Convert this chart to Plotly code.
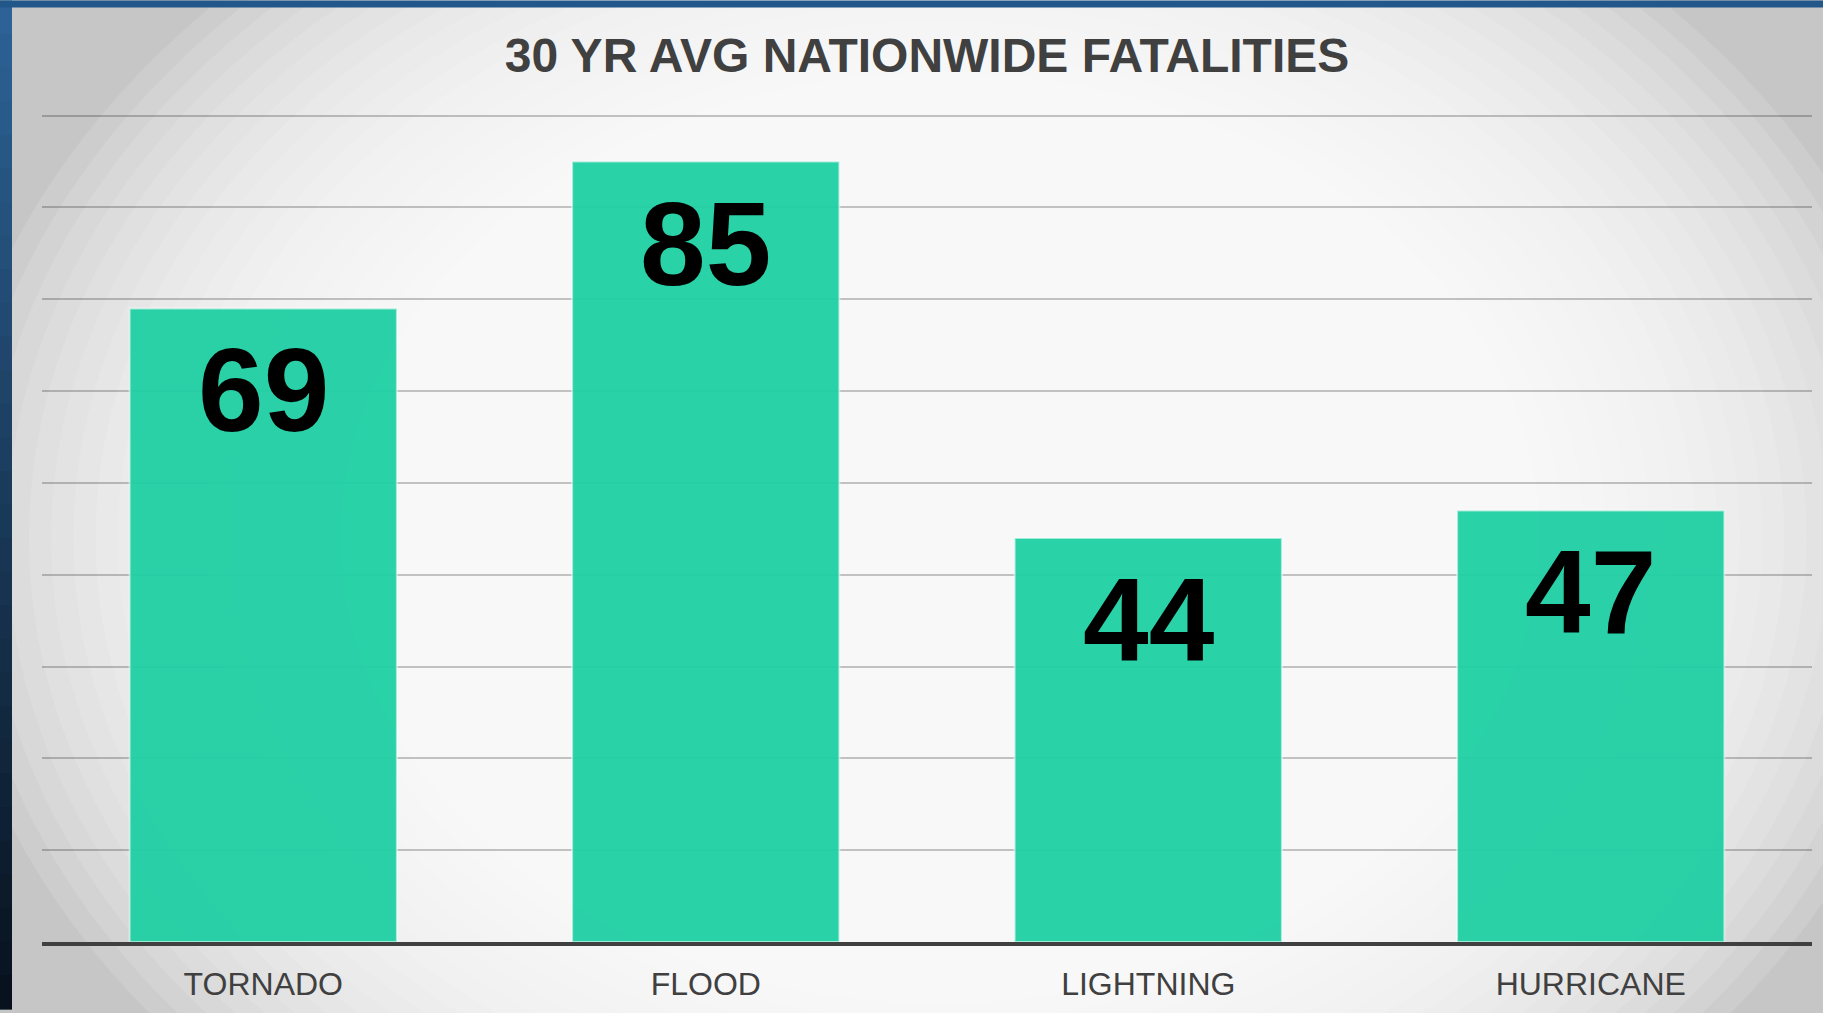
import plotly.graph_objects as go

# ---- data ----
categories = ["TORNADO", "FLOOD", "LIGHTNING", "HURRICANE"]
fatalities = [69, 85, 44, 47]
title_text = "30 YR AVG NATIONWIDE FATALITIES"

W, H = 1823, 1013
ML, MR, MT, MB = 42, 11, 111, 67
PW, PH = W - ML - MR, H - MT - MB

def px_to_paper(px, py):
    return (px - ML) / PW, (H - MB - py) / PH

fig = go.Figure()
fig.add_trace(go.Bar(
    x=categories, y=fatalities,
    marker=dict(color="#20D0A4", line=dict(color="rgba(255,255,255,0.55)", width=2)),
    opacity=0.95,
    hoverinfo="x+y",
))

# value labels at top of bars
for c, v in zip(categories, fatalities):
    fig.add_annotation(
        x=c, y=v, xref="x", yref="y", text="<b>" + str(v) + "</b>", showarrow=False,
        yanchor="top", yshift=-14,
        font=dict(family="Arial, Liberation Sans, sans-serif", size=118, color="#000000"),
    )

shapes = []
# radial background gradient
cx, cy = 940, 540
N = 45
for i in range(N):
    f = 1 - i / N
    rx, ry = 1000 * f, 780 * f
    x0, y0 = px_to_paper(cx - rx, cy + ry)
    x1, y1 = px_to_paper(cx + rx, cy - ry)
    shapes.append(dict(type="circle", xref="paper", yref="paper", x0=x0, x1=x1, y0=y0, y1=y1,
                       fillcolor="white", opacity=0.12, line=dict(width=0), layer="below"))

# left blue strip (vertical gradient)
def lerp(a, b, t):
    return tuple(int(round(a[k] + (b[k] - a[k]) * t)) for k in range(3))
top_c, bot_c = (44, 98, 150), (8, 18, 30)
NS = 30
for i in range(NS):
    t = i / (NS - 1)
    col = lerp(top_c, bot_c, t)
    y_top = H * i / NS
    y_bot = H * (i + 1) / NS + 1
    x0, y0 = px_to_paper(0, y_bot)
    x1, y1 = px_to_paper(12, y_top)
    shapes.append(dict(type="rect", xref="paper", yref="paper", x0=x0, x1=x1, y0=y0, y1=y1,
                       fillcolor="rgb(%d,%d,%d)" % col, line=dict(width=0), layer="below"))
# top blue strip
x0, y0 = px_to_paper(0, 7)
x1, y1 = px_to_paper(W, 0)
shapes.append(dict(type="rect", xref="paper", yref="paper", x0=x0, x1=x1, y0=y0, y1=y1,
                   fillcolor="#22578a", line=dict(width=0), layer="below"))

fig.update_layout(
    width=W, height=H,
    margin=dict(l=ML, r=MR, t=MT, b=MB, pad=0),
    paper_bgcolor="#c6c6c6",
    plot_bgcolor="rgba(0,0,0,0)",
    showlegend=False,
    bargap=0.396,
    shapes=shapes,
    title=dict(text="<b>" + title_text + "</b>", x=0.5, xref="paper", xanchor="center",
               y=1 - 55.5 / H, yref="container", yanchor="middle",
               font=dict(family="Arial, Liberation Sans, sans-serif", size=48, color="#404040")),
    xaxis=dict(showgrid=False, showline=True, linecolor="#404040", linewidth=4,
               ticks="outside", ticklen=11, tickcolor="rgba(0,0,0,0)",
               tickfont=dict(family="Arial, Liberation Sans, sans-serif", size=32, color="#404040")),
    yaxis=dict(range=[0, 90.5], tick0=0, dtick=10, showgrid=True, gridcolor="rgba(0,0,0,0.22)", gridwidth=1.5,
               showticklabels=False, zeroline=False, showline=False),
)

fig.write_html("out.html", config={"displayModeBar": False},
               post_script="document.body.style.margin='0px';document.body.style.overflow='hidden';")
